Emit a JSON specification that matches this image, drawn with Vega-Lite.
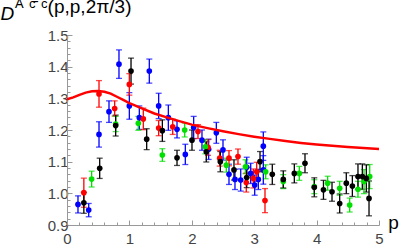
{
  "$schema": "https://vega.github.io/schema/vega-lite/v6.json",
  "width": 312,
  "height": 190,
  "autosize": "none",
  "padding": {"left": 67, "top": 35, "right": 20, "bottom": 27},
  "background": "white",
  "config": {"view": {"stroke": null}, "font": "Liberation Sans", "axis": {"labelOverlap": false}},
  "title": {"text": "ᴬ ᶜ̄ ᶜ(p,p,2π/3)", "anchor": "start", "frame": "group", "dx": -52, "offset": 0, "dy": 28, "baseline": "alphabetic", "fontSize": 19, "fontWeight": "normal", "font": "Liberation Sans", "color": "#000000"},
  "datasets": {
    "pts": [
      {"s": "blue", "x": 0.176, "y": 0.965, "e": 0.027},
      {"s": "blue", "x": 0.348, "y": 0.947, "e": 0.021},
      {"s": "blue", "x": 0.513, "y": 1.186, "e": 0.04},
      {"s": "blue", "x": 0.673, "y": 1.258, "e": 0.034},
      {"s": "blue", "x": 0.833, "y": 1.408, "e": 0.045},
      {"s": "blue", "x": 0.999, "y": 1.276, "e": 0.042},
      {"s": "blue", "x": 1.159, "y": 1.239, "e": 0.037},
      {"s": "blue", "x": 1.319, "y": 1.386, "e": 0.038},
      {"s": "blue", "x": 1.469, "y": 1.276, "e": 0.04},
      {"s": "blue", "x": 1.624, "y": 1.239, "e": 0.04},
      {"s": "blue", "x": 1.763, "y": 1.202, "e": 0.027},
      {"s": "blue", "x": 1.896, "y": 1.123, "e": 0.032},
      {"s": "blue", "x": 2.03, "y": 1.208, "e": 0.035},
      {"s": "blue", "x": 2.163, "y": 1.168, "e": 0.032},
      {"s": "blue", "x": 2.27, "y": 1.139, "e": 0.032},
      {"s": "blue", "x": 2.393, "y": 1.191, "e": 0.033},
      {"s": "blue", "x": 2.5, "y": 1.137, "e": 0.032},
      {"s": "blue", "x": 2.596, "y": 1.06, "e": 0.032},
      {"s": "blue", "x": 2.692, "y": 1.044, "e": 0.032},
      {"s": "blue", "x": 2.784, "y": 1.042, "e": 0.035},
      {"s": "blue", "x": 2.88, "y": 1.082, "e": 0.032},
      {"s": "blue", "x": 2.944, "y": 1.063, "e": 0.032},
      {"s": "blue", "x": 3.008, "y": 1.026, "e": 0.032},
      {"s": "blue", "x": 3.066, "y": 1.044, "e": 0.032},
      {"s": "blue", "x": 3.146, "y": 1.149, "e": 0.045},
      {"s": "blue", "x": 3.146, "y": 1.074, "e": 0.045},
      {"s": "red", "x": 0.27, "y": 1.002, "e": 0.046},
      {"s": "red", "x": 0.513, "y": 1.314, "e": 0.042},
      {"s": "red", "x": 0.764, "y": 1.268, "e": 0.024},
      {"s": "red", "x": 0.999, "y": 1.344, "e": 0.034},
      {"s": "red", "x": 1.223, "y": 1.235, "e": 0.034},
      {"s": "red", "x": 1.469, "y": 1.206, "e": 0.024},
      {"s": "red", "x": 1.694, "y": 1.21, "e": 0.024},
      {"s": "red", "x": 2.099, "y": 1.195, "e": 0.022},
      {"s": "red", "x": 2.26, "y": 1.145, "e": 0.025},
      {"s": "red", "x": 2.447, "y": 1.111, "e": 0.025},
      {"s": "red", "x": 2.596, "y": 1.111, "e": 0.024},
      {"s": "red", "x": 2.74, "y": 1.116, "e": 0.024},
      {"s": "red", "x": 2.873, "y": 1.034, "e": 0.03},
      {"s": "red", "x": 2.986, "y": 1.047, "e": 0.03},
      {"s": "red", "x": 3.04, "y": 1.068, "e": 0.03},
      {"s": "red", "x": 3.173, "y": 0.977, "e": 0.038},
      {"s": "green", "x": 0.395, "y": 1.045, "e": 0.025},
      {"s": "green", "x": 0.78, "y": 1.219, "e": 0.024},
      {"s": "green", "x": 1.143, "y": 1.221, "e": 0.022},
      {"s": "green", "x": 1.528, "y": 1.121, "e": 0.02},
      {"s": "green", "x": 1.886, "y": 1.2, "e": 0.022},
      {"s": "green", "x": 2.217, "y": 1.147, "e": 0.022},
      {"s": "green", "x": 2.553, "y": 1.089, "e": 0.022},
      {"s": "green", "x": 2.86, "y": 1.084, "e": 0.022},
      {"s": "green", "x": 3.184, "y": 1.068, "e": 0.022},
      {"s": "green", "x": 3.466, "y": 1.037, "e": 0.022},
      {"s": "green", "x": 3.723, "y": 1.063, "e": 0.022},
      {"s": "green", "x": 3.963, "y": 1.021, "e": 0.022},
      {"s": "green", "x": 4.177, "y": 1.032, "e": 0.022},
      {"s": "green", "x": 4.37, "y": 1.016, "e": 0.022},
      {"s": "green", "x": 4.53, "y": 0.963, "e": 0.022},
      {"s": "green", "x": 4.663, "y": 1.013, "e": 0.025},
      {"s": "green", "x": 4.76, "y": 1.037, "e": 0.038},
      {"s": "green", "x": 4.851, "y": 1.053, "e": 0.038},
      {"s": "black", "x": 0.27, "y": 0.97, "e": 0.033},
      {"s": "black", "x": 0.524, "y": 1.079, "e": 0.032},
      {"s": "black", "x": 0.78, "y": 1.214, "e": 0.033},
      {"s": "black", "x": 1.026, "y": 1.386, "e": 0.041},
      {"s": "black", "x": 1.277, "y": 1.171, "e": 0.033},
      {"s": "black", "x": 1.528, "y": 1.198, "e": 0.034},
      {"s": "black", "x": 1.763, "y": 1.112, "e": 0.024},
      {"s": "black", "x": 2.003, "y": 1.168, "e": 0.032},
      {"s": "black", "x": 2.232, "y": 1.131, "e": 0.032},
      {"s": "black", "x": 2.457, "y": 1.1, "e": 0.032},
      {"s": "black", "x": 2.676, "y": 1.074, "e": 0.032},
      {"s": "black", "x": 2.88, "y": 1.05, "e": 0.032},
      {"s": "black", "x": 3.093, "y": 1.1, "e": 0.032},
      {"s": "black", "x": 3.29, "y": 1.06, "e": 0.032},
      {"s": "black", "x": 3.466, "y": 1.044, "e": 0.027},
      {"s": "black", "x": 3.643, "y": 1.063, "e": 0.03},
      {"s": "black", "x": 3.814, "y": 1.095, "e": 0.03},
      {"s": "black", "x": 3.963, "y": 1.019, "e": 0.03},
      {"s": "black", "x": 4.11, "y": 1.011, "e": 0.03},
      {"s": "black", "x": 4.247, "y": 1.005, "e": 0.03},
      {"s": "black", "x": 4.37, "y": 0.968, "e": 0.03},
      {"s": "black", "x": 4.476, "y": 1.032, "e": 0.033},
      {"s": "black", "x": 4.573, "y": 1.023, "e": 0.033},
      {"s": "black", "x": 4.663, "y": 1.053, "e": 0.04},
      {"s": "black", "x": 4.733, "y": 1.053, "e": 0.04},
      {"s": "black", "x": 4.797, "y": 1.047, "e": 0.043},
      {"s": "black", "x": 4.84, "y": 0.984, "e": 0.055}
    ],
    "curve": [
      {"x": 0, "y": 1.297}, {"x": 0.1, "y": 1.303}, {"x": 0.2, "y": 1.311}, {"x": 0.3, "y": 1.318},
      {"x": 0.4, "y": 1.322}, {"x": 0.5, "y": 1.323}, {"x": 0.6, "y": 1.321}, {"x": 0.7, "y": 1.315},
      {"x": 0.8, "y": 1.305}, {"x": 0.9, "y": 1.295}, {"x": 1.0, "y": 1.285}, {"x": 1.2, "y": 1.268},
      {"x": 1.4, "y": 1.252}, {"x": 1.6, "y": 1.24}, {"x": 1.8, "y": 1.228}, {"x": 2.0, "y": 1.217},
      {"x": 2.25, "y": 1.206}, {"x": 2.5, "y": 1.196}, {"x": 2.75, "y": 1.187}, {"x": 3.0, "y": 1.179},
      {"x": 3.25, "y": 1.172}, {"x": 3.5, "y": 1.165}, {"x": 3.75, "y": 1.159}, {"x": 4.0, "y": 1.154},
      {"x": 4.25, "y": 1.15}, {"x": 4.5, "y": 1.146}, {"x": 4.75, "y": 1.143}, {"x": 5.0, "y": 1.14}
    ]
  },
  "encoding": {
    "x": {"field": "x", "type": "quantitative",
      "scale": {"domain": [0, 5], "nice": false, "zero": false},
      "axis": {
        "values": [0,0.2,0.4,0.6,0.8,1,1.2,1.4,1.6,1.8,2,2.2,2.4,2.6,2.8,3,3.2,3.4,3.6,3.8,4,4.2,4.4,4.6,4.8,5],
        "labelExpr": "datum.value % 1 === 0 ? datum.value : ''",
        "labelOverlap": false, "labelFlush": false,
        "tickSize": {"condition": {"test": "datum.value % 1 === 0", "value": -5}, "value": -3},
        "grid": false, "domainColor": "#999999", "tickColor": "#999999",
        "labelColor": "#444444", "labelFontSize": 15, "labelPadding": 11, "labelFont": "Liberation Sans",
        "title": "p", "titleFontSize": 19, "titleFontWeight": "normal", "titleColor": "#000000",
        "titleFont": "Liberation Sans", "titleX": 326, "titleY": 3, "titleAlign": "center", "titleBaseline": "alphabetic"
      }
    },
    "y": {"field": "y", "type": "quantitative",
      "scale": {"domain": [0.9, 1.5], "nice": false, "zero": false},
      "axis": {
        "values": [0.9,0.92,0.94,0.96,0.98,1.0,1.02,1.04,1.06,1.08,1.1,1.12,1.14,1.16,1.18,1.2,1.22,1.24,1.26,1.28,1.3,1.32,1.34,1.36,1.38,1.4,1.42,1.44,1.46,1.48,1.5],
        "labelExpr": "abs(datum.value*10 - round(datum.value*10)) < 0.001 ? format(datum.value, '.1f') : ''",
        "labelOverlap": false, "labelFlush": false,
        "tickSize": {"condition": {"test": "abs(datum.value*10 - round(datum.value*10)) < 0.001", "value": -5}, "value": -3},
        "grid": false, "domainColor": "#999999", "tickColor": "#999999",
        "labelColor": "#444444", "labelFontSize": 15, "labelPadding": 4, "labelFont": "Liberation Sans",
        "title": "D", "titleFontSize": 19, "titleFontWeight": "normal", "titleFontStyle": "italic", "titleColor": "#000000",
        "titleFont": "Liberation Sans", "titleAngle": 0, "titleX": -67, "titleY": -16, "titleAlign": "left", "titleBaseline": "alphabetic"
      }
    }
  },
  "layer": [
    {
      "data": {"name": "pts"},
      "mark": {"type": "errorbar", "ticks": true, "size": 6, "thickness": 1.3},
      "encoding": {
        "yError": {"field": "e"},
        "color": {"field": "s", "type": "nominal", "legend": null,
          "scale": {"domain": ["blue", "red", "green", "black"], "range": ["#0000FF", "#FF0000", "#00E000", "#000000"]}}
      }
    },
    {
      "data": {"name": "pts"},
      "mark": {"type": "circle", "size": 32, "opacity": 1},
      "encoding": {
        "color": {"field": "s", "type": "nominal", "legend": null}
      }
    },
    {
      "data": {"name": "curve"},
      "mark": {"type": "line", "color": "#FF0000", "strokeWidth": 2.5},
      "encoding": {}
    }
  ]
}
